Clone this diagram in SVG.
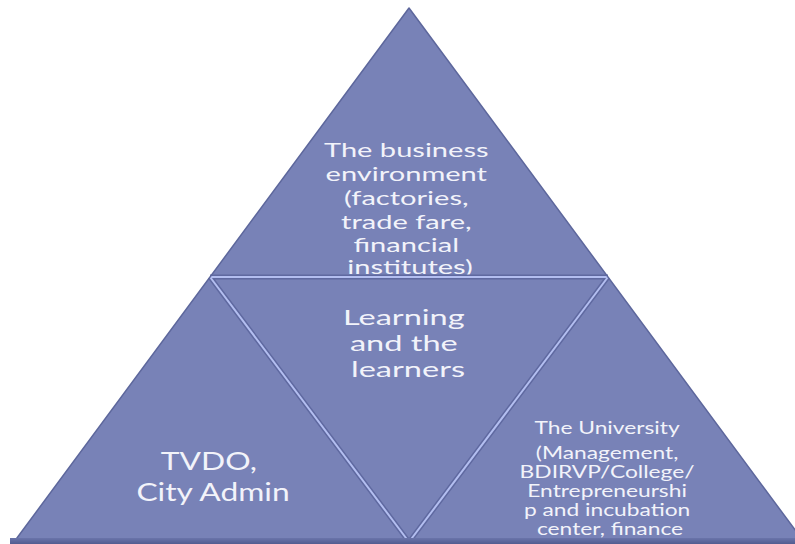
<svg xmlns="http://www.w3.org/2000/svg" width="795" height="544" viewBox="0 0 795 544">
  <defs>
    <style>
      .face { fill: #7882B7; }
      .rim { fill: none; stroke: #5D679C; stroke-width: 1.5; stroke-linejoin: round; }
      .gap-dark { stroke: #5F69A0; stroke-width: 5; fill: none; }
      .gap-light { stroke: #B3BEF0; stroke-width: 2; fill: none; }
      .label { fill: #F2F3FA; font-family: "Lato", "Open Sans", "DejaVu Sans", sans-serif; text-anchor: middle; }
    </style>
    <linearGradient id="baseShade" x1="0" y1="0" x2="0" y2="1">
      <stop offset="0" stop-color="#6A74AA"/>
      <stop offset="1" stop-color="#525C90"/>
    </linearGradient>
  </defs>

  <rect width="795" height="544" fill="#FFFFFF"/>

  <!-- pyramid faces; labels are widened horizontally -->
  <g id="top-face">
    <polygon class="face" points="409,8 210,277 608,277"/>
    <text class="label" font-size="18.5" transform="translate(410,0) scale(1.57,1)">
      <tspan x="0" y="157">The business</tspan>
      <tspan x="0" y="181">environment</tspan>
      <tspan x="0" y="205">(factories,</tspan>
      <tspan x="0" y="229">trade fare,</tspan>
      <tspan x="0" y="252">financial</tspan>
      <tspan x="0" y="274">institutes)</tspan>
    </text>
  </g>

  <g id="left-face">
    <polygon class="face" points="210,277 14,542 409,542"/>
    <text class="label" font-size="25" transform="translate(213,0) scale(1.27,1)">
      <tspan x="0" y="470">TVDO,</tspan>
      <tspan x="0" y="501">City Admin</tspan>
    </text>
  </g>

  <g id="center-face">
    <polygon class="face" points="210,277 608,277 409,542"/>
    <text class="label" font-size="21" transform="translate(408,0) scale(1.55,1)">
      <tspan x="0" y="325">Learning</tspan>
      <tspan x="0" y="351">and the</tspan>
      <tspan x="0" y="377">learners</tspan>
    </text>
  </g>

  <g id="right-face">
    <polygon class="face" points="608,277 409,542 804,542"/>
    <text class="label" font-size="16.5" transform="translate(610,0) scale(1.38,1)">
      <tspan x="0" y="434">The University</tspan>
      <tspan x="0" y="459">(Management,</tspan>
      <tspan x="0" y="478">BDIRVP/College/</tspan>
      <tspan x="0" y="497">Entrepreneurshi</tspan>
      <tspan x="0" y="516">p and incubation</tspan>
      <tspan x="0" y="535">center, finance</tspan>
    </text>
  </g>

  <!-- seams between the faces and the outer rim -->
  <g id="connectors">
    <path class="gap-dark" d="M210,277 L608,277 M210,277 L409,542 M608,277 L409,542"/>
    <path class="gap-light" d="M210,277 L608,277 M210,277 L409,542 M608,277 L409,542"/>
    <polygon class="rim" points="409,8 14,542 804,542"/>
    <rect x="10" y="538" width="795" height="6" fill="url(#baseShade)"/>
  </g>
</svg>
